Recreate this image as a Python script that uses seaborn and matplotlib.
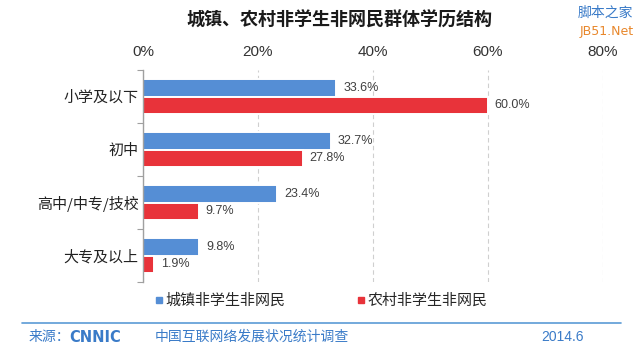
import matplotlib
matplotlib.use("Agg")
import matplotlib.pyplot as plt
import seaborn as sns
import pandas as pd
from matplotlib.lines import Line2D
from matplotlib.ticker import FuncFormatter

sns.set_theme(style="white")
plt.rcParams["font.family"] = ["Noto Sans CJK SC", "DejaVu Sans"]

categories = ["小学及以下", "初中", "高中/中专/技校", "大专及以上"]
urban = [33.6, 32.7, 23.4, 9.8]
rural = [60.0, 27.8, 9.7, 1.9]
series = ["城镇非学生非网民", "农村非学生非网民"]
colors = ["#558ED5", "#E8333A"]
x_ticks = [0, 20, 40, 60, 80]

df = pd.DataFrame({
    "category": categories * 2,
    "value": urban + rural,
    "group": [series[0]] * len(categories) + [series[1]] * len(categories),
})

fig = plt.figure(figsize=(6.4, 3.55), dpi=100)
ax = fig.add_axes([0.2234, 0.2056, 0.7186, 0.5972])

sns.barplot(
    data=df,
    x="value",
    y="category",
    hue="group",
    palette=colors,
    saturation=1,
    width=0.66,
    edgecolor="white",
    linewidth=1.4,
    legend=False,
    ax=ax,
)

num_font = ["Liberation Sans", "Noto Sans CJK SC"]
for container in ax.containers:
    ax.bar_label(container, fmt="%.1f%%", padding=5, fontsize=9,
                 color="#404040", family=num_font)

ax.set_xlim(0, 80)
ax.set_ylim(3.5, -0.5)
ax.set_xticks(x_ticks)
ax.xaxis.set_major_formatter(FuncFormatter(lambda v, p: f"{v:.0f}%"))
ax.xaxis.tick_top()
ax.tick_params(axis="x", length=0, pad=8, labelsize=11, labelcolor="#333333")
for lbl in ax.get_xticklabels():
    lbl.set_family(num_font)
ax.set_yticks([i - 0.5 for i in range(len(categories) + 1)], minor=True)
ax.tick_params(axis="y", which="major", length=0, pad=3, labelsize=10.8,
               labelcolor="#222222")
ax.tick_params(axis="y", which="minor", left=True, length=4, width=0.8,
               color="#A0A0A0", direction="out")
ax.set_xlabel("")
ax.set_ylabel("")
ax.grid(axis="x", linestyle=(0, (4, 3)), color="#CFCFCF", linewidth=0.8)
ax.set_axisbelow(True)
for side in ["top", "right", "bottom"]:
    ax.spines[side].set_visible(False)
ax.spines["left"].set_color("#A0A0A0")
ax.spines["left"].set_linewidth(1.0)

fig.text(0.53, 0.944, "城镇、农村非学生非网民群体学历结构",
         ha="center", va="center", fontsize=13, fontweight="bold", color="#1a1a1a")

handles = [
    Line2D([], [], marker="s", linestyle="", color=c, markersize=4.5)
    for c in colors
]
fig.legend(handles, series, loc="center", bbox_to_anchor=(0.5, 0.152),
           ncol=2, frameon=False, fontsize=10.8, handletextpad=0.05,
           columnspacing=4.6, handlelength=0.8)

fig.add_artist(Line2D([0.035, 0.97], [0.09, 0.09], color="#5B9BD5", linewidth=1.2))
fig.text(0.045, 0.05, "来源：", ha="left", va="center", fontsize=10, color="#3A7BC8")
fig.text(0.108, 0.05, "CNNIC", ha="left", va="center", fontsize=10.5,
         fontweight="bold", color="#3A7BC8", family="DejaVu Sans")
fig.text(0.242, 0.05, "中国互联网络发展状况统计调查", ha="left", va="center",
         fontsize=10, color="#3A7BC8")
fig.text(0.912, 0.05, "2014.6", ha="right", va="center", fontsize=10,
         color="#3A7BC8", family=num_font)

fig.text(0.99, 0.965, "脚本之家", ha="right", va="center", fontsize=10, color="#3A7BC8")
fig.text(0.99, 0.91, "JB51.Net", ha="right", va="center", fontsize=9, color="#E8872B",
         family="DejaVu Sans")

fig.savefig("out.png", dpi=100)
